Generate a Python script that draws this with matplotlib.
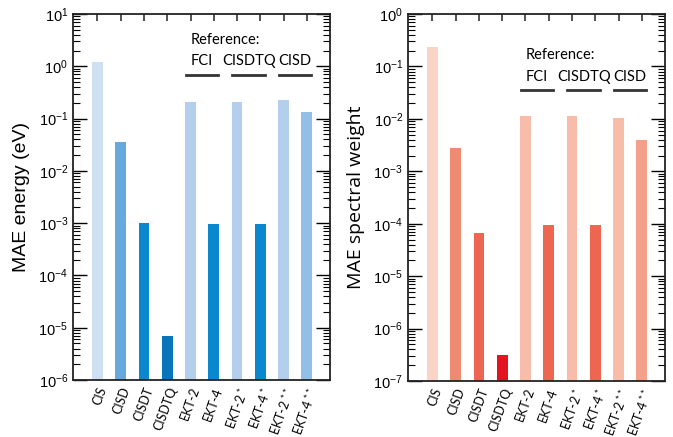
import numpy as np
import matplotlib.pyplot as plt
from matplotlib.transforms import blended_transform_factory

plt.rcParams['font.family'] = ['Liberation Sans', 'DejaVu Sans']
plt.rcParams['mathtext.fontset'] = 'custom'
plt.rcParams['mathtext.rm'] = 'Liberation Sans'
plt.rcParams['mathtext.it'] = 'Liberation Sans:italic'

############################
# DATA
############################

methods = ["CIS", "CISD", "CISDT", "CISDTQ", "EKT-2", "EKT-4",
           "EKT-2$^{\\,*}$", "EKT-4$^{\\,*}$", "EKT-2$^{\\,**}$", "EKT-4$^{\\,**}$"]
refs = ["FCI", "CISDTQ", "CISD"]

mae_energy = [1.2, 0.035, 1.0e-3, 6.1e-6, 0.205, 9.5e-4, 0.205, 9.5e-4, 0.225, 0.133]
mae_weight = [0.235, 2.8e-3, 6.6e-5, 2.2e-7, 0.0112, 9.3e-5, 0.0112, 9.3e-5, 0.0102, 4.0e-3]

blues = ["#cfe0f3", "#66a9dc", "#0a87cd", "#0a74ba", "#b4cfec", "#0a87cd",
         "#b4cfec", "#0a87cd", "#b4cfec", "#93bfe7"]
reds = ["#fad4c6", "#f08b73", "#ec6651", "#e3131f", "#f7bda9", "#ec6651",
        "#f7bda9", "#ec6651", "#f7bda9", "#f3a18a"]

x = np.arange(len(methods))
myriad = ["Lato", "DejaVu Sans"]


def panel(ax, vals, colors, ylim, ylabel, lab_font, lab_size, ref_y, name_y, line_y):
    ax.set_yscale("log")
    ax.bar(x, vals, width=0.46, color=colors, bottom=ylim[0], zorder=2)
    ax.set_ylim(*ylim)
    ax.set_xlim(-1.05, 10.0)
    ax.set_xticks(x)
    ax.set_xticklabels(methods, rotation=70, ha="right", rotation_mode="anchor",
                       fontsize=9, fontfamily=myriad)
    ax.set_ylabel(ylabel, fontsize=lab_size, labelpad=6, fontfamily=lab_font)
    ax.tick_params(axis="x", direction="in", length=5, width=1.2,
                   top=True, pad=4, color="#333333")
    ax.tick_params(axis="y", which="major", direction="in", length=10, width=1.0,
                   right=True, labelsize=10.5)
    ax.tick_params(axis="y", which="minor", direction="in", length=5, width=0.8,
                   right=True)
    for s in ax.spines.values():
        s.set_linewidth(1.3)
        s.set_color("#222222")

    tr = blended_transform_factory(ax.transData, ax.transAxes)
    txt = dict(transform=tr, ha="center", va="center", fontsize=10.5,
               fontfamily=myriad)
    ax.text(5.5, ref_y, "Reference:", **txt)
    for k, r in enumerate(refs):
        c = 4.5 + 2 * k
        ax.text(c, name_y, r, **txt)
        ax.plot([c - 0.7, c + 0.7], [line_y, line_y], transform=tr,
                color="#333333", lw=2, clip_on=False)


fig = plt.figure(figsize=(6.73, 4.37), dpi=100)
ax1 = fig.add_axes([0.1085, 0.1304, 0.382, 0.8375])
ax2 = fig.add_axes([0.6062, 0.128, 0.382, 0.8398])

panel(ax1, mae_energy, blues, (1e-6, 10), "MAE energy (eV)",
      ["Liberation Sans"], 14, 0.929, 0.872, 0.833)
panel(ax2, mae_weight, reds, (1e-7, 1), "MAE spectral weight",
      ["Open Sans"], 14, 0.888, 0.828, 0.793)

fig.savefig("out.png", dpi=100)
